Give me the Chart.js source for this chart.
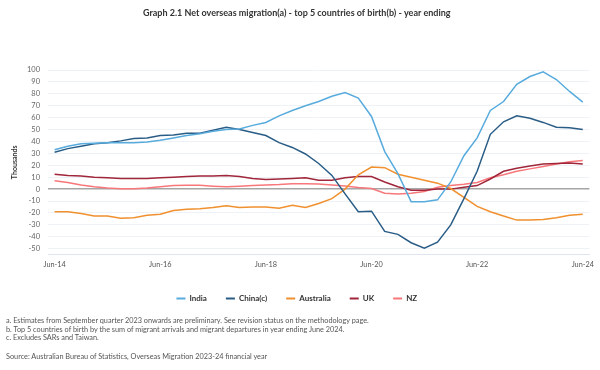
<!DOCTYPE html>
<html>
<head>
<meta charset="utf-8">
<title>Net overseas migration - top 5 countries of birth</title>
<script src="https://cdn.jsdelivr.net/npm/chart.js@4.4.1/dist/chart.umd.min.js"></script>
<style>
	body { margin: 0; background: #fff; }
	#wrap { position: relative; width: 600px; height: 370px; }
	.note { position: absolute; left: 6px; font-family: Lato, sans-serif; font-size: 7.3px; color: #555; white-space: nowrap; line-height: 8px; }
</style>
</head>
<body>
<div id="wrap">
	<canvas id="nom-cob-viz" width="600" height="370"></canvas>
	<div class="note" style="top:317px">a. Estimates from September quarter 2023 onwards are preliminary. See revision status on the methodology page.</div>
	<div class="note" style="top:325.5px">b. Top 5 countries of birth by the sum of migrant arrivals and migrant departures in year ending June 2024.</div>
	<div class="note" style="top:334px">c. Excludes SARs and Taiwan.</div>
	<div class="note" style="top:353px">Source: Australian Bureau of Statistics, Overseas Migration 2023-24 financial year</div>
</div>
<script>
// Quarterly 'year ending' periods, Jun-14 .. Jun-24
var quarters = [ 'Jun-14', 'Sep-14', 'Dec-14', 'Mar-15', 'Jun-15', 'Sep-15', 'Dec-15', 'Mar-16',
                 'Jun-16', 'Sep-16', 'Dec-16', 'Mar-17', 'Jun-17', 'Sep-17', 'Dec-17', 'Mar-18',
                 'Jun-18', 'Sep-18', 'Dec-18', 'Mar-19', 'Jun-19', 'Sep-19', 'Dec-19', 'Mar-20',
                 'Jun-20', 'Sep-20', 'Dec-20', 'Mar-21', 'Jun-21', 'Sep-21', 'Dec-21', 'Mar-22',
                 'Jun-22', 'Sep-22', 'Dec-22', 'Mar-23', 'Jun-23', 'Sep-23', 'Dec-23', 'Mar-24',
                 'Jun-24' ];
var shown_ticks = [ 'Jun-14', 'Jun-16', 'Jun-18', 'Jun-20', 'Jun-22', 'Jun-24' ];
var y_ticks = [ -50, -40, -30, -20, -10, 0, 10, 20, 30, 40, 50, 60, 70, 80, 90, 100 ];

// Net overseas migration, thousands
var india     = [ 33, 36, 38, 38.5, 39, 39, 39, 39.5, 41, 43, 45, 46.5, 48.5, 50, 50.5, 53.5, 56, 61.5, 66, 70,
                  73.5, 78, 81, 76.5, 61, 31.5, 13, -10.5, -10.5, -9, 6, 28, 43, 66, 73.5, 88, 94.5, 98.5, 92, 82, 73 ];
var china     = [ 31, 34, 36, 38, 39, 40.5, 42.5, 43, 45, 45.5, 47, 47, 49.5, 52, 50, 47.5, 45, 39, 35, 29.5,
                  21.5, 11.5, -4, -19, -18.5, -35.5, -38, -45, -49.5, -44.5, -30, -8, 15, 46, 56.5, 61.5, 59.5, 56, 52, 51.5, 50 ];
var australia = [ -19, -19, -20.5, -22.5, -22.5, -24.5, -24, -22, -21, -18, -17, -16.5, -15.5, -14, -15.5, -15, -15, -16, -13.5, -15.5,
                  -12, -8, 0, 12, 18.5, 18, 12.5, 10, 7.5, 5, 0.5, -7, -14.5, -19, -22.5, -26, -26, -25.5, -24, -22, -21 ];
var uk        = [ 12.5, 11.5, 11, 10, 9.5, 9, 9, 9, 9.5, 10, 10.5, 11, 11, 11.5, 10.5, 9, 8, 8.5, 9, 9.5,
                  7.5, 7.5, 9.5, 10.5, 10.5, 6, 2, -1, -1, 0, 0, 1.5, 3, 8.5, 15, 17.5, 19.5, 21, 21.5, 22, 21 ];
var nz        = [ 7, 5.5, 3.5, 2, 1, 0.3, 0.3, 1, 2, 3, 3.2, 3.2, 2.5, 2, 2.5, 3, 3.5, 3.8, 4.5, 4.6,
                  4.3, 3.5, 2.7, 1.4, 0.5, -3.5, -4, -3.5, -2, 1.5, 3, 4, 5.5, 9.5, 12, 15, 17, 19, 21, 23, 24 ];

function make_dataset(label, colour, values) {
	return { label: label,
	         data: values,
	         borderColor: colour,
	         backgroundColor: colour,
	         borderWidth: 1.5,
	         pointRadius: 0,
	         pointHoverRadius: 0,
	         tension: 0
	       };
}

Chart.defaults.font.family = 'Lato, sans-serif';

var ctx = document.getElementById('nom-cob-viz');
var cfg = {
	type: 'line',
	data: {
		labels: quarters,
		datasets: [ make_dataset('India', '#58abdd', india),
		            make_dataset('China(c)', '#2a5d86', china),
		            make_dataset('Australia', '#f0902e', australia),
		            make_dataset('UK', '#a0263a', uk),
		            make_dataset('NZ', '#f7777a', nz) ]
	},
	options: {
		responsive: false,
		animation: false,
		layout: { padding: { left: 0, right: 6.4, top: 0, bottom: 57.6 } },
		plugins: {
			title: { display: true,
			         text: 'Graph 2.1 Net overseas migration(a) - top 5 countries of birth(b) - year ending',
			         color: '#333',
			         font: { size: 9, weight: 'bold' },
			         padding: { top: 7.6, bottom: 51.6 }
			},
			legend: { position: 'bottom',
			          labels: { boxWidth: 9, boxHeight: 2, padding: 19, color: '#333',
			                    font: { size: 8, weight: 'bold' },
			                    generateLabels: function(chart) {
			                    	var items = Chart.defaults.plugins.legend.labels.generateLabels(chart);
			                    	items.forEach(function(it) { it.lineWidth = 0; it.fillStyle = it.strokeStyle; });
			                    	return items;
			                    }
			          }
			},
			tooltip: { enabled: false }
		},
		scales: {
			x: { offset: true,
			     grid: { display: false, drawTicks: false },
			     border: { display: true, color: '#dfe5ee', width: 1 },
			     ticks: { autoSkip: false, maxRotation: 0, padding: 6, color: '#555', font: { size: 7.3 },
			              callback: function(val, idx) {
			              	var lbl = quarters[idx];
			              	return shown_ticks.indexOf(lbl) >= 0 ? lbl : '';
			              }
			     }
			},
			y: { min: -55, max: 100,
			     afterBuildTicks: function(scale) {
			     	scale.ticks = y_ticks.map(function(v) { return { value: v }; });
			     },
			     afterFit: function(scale) { scale.width = 48; },
			     grid: { drawTicks: false,
			             color: function(c) { return (c.tick && c.tick.value === 0) ? '#a6a6a6' : '#eef1f5'; },
			             lineWidth: function(c) { return (c.tick && c.tick.value === 0) ? 1.5 : 1; }
			     },
			     border: { display: false },
			     ticks: { padding: 8, color: '#666', font: { size: 7.5 } },
			     title: { display: true, text: 'Thousands', color: '#333',
			              font: { size: 7, weight: 'bold' },
			              padding: { top: 11, bottom: 0 }
			     }
			}
		}
	}
};
new Chart(ctx, cfg);
</script>
</body>
</html>
